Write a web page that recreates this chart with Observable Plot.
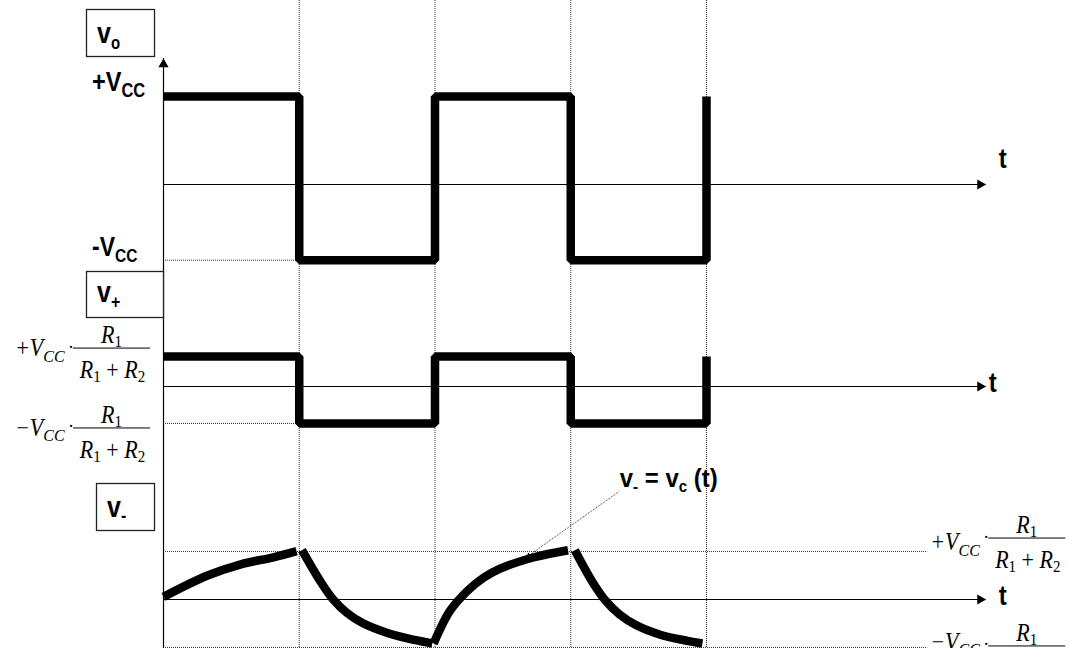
<!DOCTYPE html>
<html>
<head>
<meta charset="utf-8">
<script src="https://cdn.jsdelivr.net/npm/d3@7"></script>
<script src="https://cdn.jsdelivr.net/npm/@observablehq/plot@0.6"></script>
<style>
  html, body { margin: 0; padding: 0; background: #fff; }
  #chart { width: 1070px; height: 648px; position: relative; overflow: hidden; background: #fff; }
  #chart svg { display: block; }
</style>
</head>
<body>
<div id="chart"></div>
<script>
// ---- Data -------------------------------------------------------------
// Switching instants of the relaxation oscillator (time in half-periods)
const edges = [0, 1, 2, 3, 4];
// Comparator output v_o at the start of each half-period (units of Vcc)
const voLevels = [1, -0.86, 1, -0.86, 1];
// Non-inverting input v+ = v_o·R1/(R1+R2) at the start of each half-period
const vpLevels = [0.34, -0.42, 0.34, -0.42, 0.34];
// Switching thresholds ±Vcc·R1/(R1+R2) seen by the capacitor
const thresholds = [0.545, -0.545];
// Capacitor voltage v- = vc(t): segment id, time and value of each sample
const vcSegment = [0, 0, 0, 0, 0,
                   1, 1, 1, 1, 1, 1, 1, 1,
                   2, 2, 2, 2, 2, 2, 2,
                   3, 3, 3, 3, 3, 3, 3, 3];
const vcTime = [0.00, 0.32, 0.57, 0.81, 0.98,
                1.02, 1.15, 1.25, 1.35, 1.47, 1.65, 1.85, 1.98,
                1.99, 2.11, 2.24, 2.36, 2.48, 2.73, 2.98,
                3.03, 3.16, 3.26, 3.36, 3.48, 3.66, 3.86, 3.97];
const vcValue = [0.03, 0.27, 0.40, 0.48, 0.55,
                 0.56, 0.22, 0.00, -0.15, -0.27, -0.38, -0.46, -0.50,
                 -0.50, -0.13, 0.10, 0.25, 0.35, 0.48, 0.56,
                 0.56, 0.20, -0.02, -0.17, -0.29, -0.40, -0.47, -0.50];
// Point of the v- curve that the annotation points at, and where its text sits
const calloutTarget = {t: 2.69, v: 0.50};
const calloutText = {t: 3.35, v: 1.22};

// ---- Layout -----------------------------------------------------------
const W = 1070;
const axisX = 163;              // pixel column of the vertical axis
const pxPerHalf = 135.75;       // pixels per half-period
const pxPerUnit = 88;           // pixels per Vcc
const tEnd = 6.06;              // end of the time axes
const tDotEnd = 5.63;           // end of the dotted threshold guides
const xDomain = [-axisX / pxPerHalf, (W - axisX) / pxPerHalf];
const panels = [
  {height: 268, zero: 184},
  {height: 200, zero: 118},
  {height: 180, zero: 131}
];
const yDomain = p => [(p.zero - p.height) / pxPerUnit, p.zero / pxPerUnit];

const sans = "'Liberation Sans', Arial, sans-serif";
const serif = "'Liberation Serif', 'Times New Roman', serif";

const dotted = {stroke: "#333", strokeWidth: 1, strokeDasharray: "1,1"};
const heavy = {stroke: "black", strokeWidth: 8.5, strokeLinecap: "butt", strokeLinejoin: "miter"};
const axisLine = {stroke: "black", strokeWidth: 1.2};
const arrowR = 3.8;
// distance from a triangle symbol's centre to its tip, in pixels
const tipOffset = 2 * Math.sqrt(Math.PI * arrowR * arrowR / (3 * Math.sqrt(3)));

const toRows = (ts, vs) => ts.map((t, i) => ({t, v: vs[i]}));
const vcRows = vcTime.map((t, i) => ({t, v: vcValue[i], seg: vcSegment[i]}));

function timeAxis() {
  return [
    Plot.ruleY([0], {x1: 0, x2: tEnd, ...axisLine}),
    Plot.dot([{t: tEnd - tipOffset / pxPerHalf, v: 0}],
      {x: "t", y: "v", symbol: "triangle", r: arrowR, fill: "black", stroke: "none", rotate: 90})
  ];
}

function panel(p, marks) {
  return Plot.plot({
    width: W, height: p.height, margin: 0,
    x: {domain: xDomain, axis: null},
    y: {domain: yDomain(p), axis: null},
    style: {background: "none", overflow: "visible"},
    marks
  });
}

function scalesOf(svg) {
  const sx = svg.scale("x"), sy = svg.scale("y");
  return {x: d3.scaleLinear(sx.domain, sx.range), y: d3.scaleLinear(sy.domain, sy.range)};
}

// Text with sub/superscript parts; stretch scales the glyphs vertically.
function label(svg, x, y, parts, o) {
  const t = d3.select(svg).append("text")
    .attr("transform", `translate(${x},${y}) scale(1,${o.stretch ?? 1})`)
    .attr("text-anchor", o.anchor ?? "start")
    .attr("fill", "black")
    .style("font-family", o.family)
    .style("font-size", o.size + "px")
    .style("font-weight", o.weight ?? "normal")
    .style("font-style", "normal");
  let shift = 0;
  for (const p of parts) {
    const s = p.shift ?? 0;
    const ts = t.append("tspan").attr("dy", s - shift).text(p.text);
    shift = s;
    if (p.size) ts.style("font-size", p.size + "px");
    if (p.style) ts.style("font-style", p.style);
  }
  return t;
}

function box(svg, x1, y1, x2, y2) {
  d3.select(svg).append("rect")
    .attr("x", Math.round(x1) + 0.5).attr("y", Math.round(y1) + 0.5)
    .attr("width", Math.round(x2 - x1)).attr("height", Math.round(y2 - y1))
    .attr("fill", "white").attr("stroke", "#222").attr("stroke-width", 1.3);
}

// ±Vcc · R1/(R1+R2), with the fraction bar starting at x0, at height yBar
function fraction(svg, x0, yBar, sign, vShift) {
  const w = 77;
  const st = 1.1;
  label(svg, x0 - 58, yBar + vShift, [
    {text: sign + "V", style: "italic"},
    {text: "CC", size: 16, shift: 5, style: "italic"}
  ], {family: serif, size: 22, stretch: st});
  label(svg, x0 - 2, yBar + 4.5, [{text: "·"}], {family: serif, size: 18, anchor: "middle"});
  d3.select(svg).append("line")
    .attr("x1", x0).attr("x2", x0 + w).attr("y1", yBar).attr("y2", yBar)
    .attr("stroke", "black").attr("stroke-width", 1);
  label(svg, x0 + w / 2, yBar - 5, [
    {text: "R", style: "italic"},
    {text: "1", size: 15, shift: 4}
  ], {family: serif, size: 22, anchor: "middle", stretch: st});
  label(svg, x0 + w / 2 + 1, yBar + 30, [
    {text: "R", style: "italic"},
    {text: "1", size: 15, shift: 4},
    {text: "\u00a0+\u00a0", shift: 0},
    {text: "R", style: "italic"},
    {text: "2", size: 15, shift: 4}
  ], {family: serif, size: 22, anchor: "middle", stretch: st});
}

const boldSans = (size, extra = {}) => ({family: sans, size, weight: "bold", stretch: 1.18, ...extra});

const root = document.getElementById("chart");

// ---- Panel 1: comparator output v_o -------------------------------------
{
  const p = panels[0];
  const axisTop = (p.zero - 58) / pxPerUnit;
  const svg = panel(p, [
    Plot.ruleX(edges.slice(1), dotted),
    Plot.ruleY([voLevels[1]], {x1: 0, x2: edges[1], ...dotted}),
    Plot.ruleX([0], {y1: axisTop, y2: yDomain(p)[0], ...axisLine}),
    Plot.dot([{t: 0, v: axisTop - tipOffset / pxPerUnit}],
      {x: "t", y: "v", symbol: "triangle", r: arrowR, fill: "black", stroke: "none"}),
    ...timeAxis(),
    Plot.line(toRows(edges, voLevels), {x: "t", y: "v", curve: "step-after", ...heavy})
  ]);
  const s = scalesOf(svg);
  const x0 = s.x(0);
  box(svg, x0 - 77, 9, x0 - 9, 56);
  label(svg, x0 - 66, 43, [{text: "v"}, {text: "o", size: 15, shift: 5}], boldSans(25));
  label(svg, x0 - 71, s.y(voLevels[0]) - 5, [{text: "+V"}, {text: "CC", size: 16.5, shift: 5}], boldSans(23.5));
  label(svg, x0 - 71, s.y(voLevels[1]) - 4, [{text: "-V"}, {text: "CC", size: 15.5, shift: 5}], boldSans(23));
  label(svg, s.x(tEnd) + 13, s.y(0) - 16, [{text: "t"}], boldSans(24));
  root.append(svg);
}

// ---- Panel 2: non-inverting input v+ ------------------------------------
{
  const p = panels[1];
  const svg = panel(p, [
    Plot.ruleX(edges.slice(1), dotted),
    Plot.ruleY([vpLevels[1]], {x1: 0, x2: edges[1], ...dotted}),
    Plot.ruleX([0], axisLine),
    ...timeAxis(),
    Plot.line(toRows(edges, vpLevels), {x: "t", y: "v", curve: "step-after", ...heavy})
  ]);
  const s = scalesOf(svg);
  const x0 = s.x(0);
  box(svg, x0 - 77, 3, x0, 49);
  label(svg, x0 - 66, 34, [{text: "v"}, {text: "+", size: 16, shift: 5}], boldSans(25));
  label(svg, s.x(tEnd) + 3, s.y(0) + 6, [{text: "t"}], boldSans(24));
  fraction(svg, x0 - 90, s.y(vpLevels[0]) - 8, "+", 8);
  fraction(svg, x0 - 90, s.y(vpLevels[1]) + 5, "\u2212", 8);
  root.append(svg);
}

// ---- Panel 3: inverting input v- = capacitor voltage --------------------
{
  const p = panels[2];
  const svg = panel(p, [
    Plot.ruleX(edges.slice(1), dotted),
    Plot.ruleY(thresholds, {x1: 0, x2: tDotEnd, ...dotted}),
    Plot.ruleX([0], axisLine),
    ...timeAxis(),
    Plot.link([{a: calloutText, b: calloutTarget}],
      {x1: d => d.a.t, y1: d => d.a.v, x2: d => d.b.t, y2: d => d.b.v, ...dotted}),
    Plot.line(vcRows, {x: "t", y: "v", z: "seg", curve: "catmull-rom", ...heavy}),
    Plot.dot([calloutTarget], {x: "t", y: "v", symbol: "triangle", r: 2, fill: "black", stroke: "none", rotate: 235})
  ]);
  const s = scalesOf(svg);
  const x0 = s.x(0);
  box(svg, x0 - 67, 15, x0 - 9, 62);
  label(svg, x0 - 56, 49, [{text: "v"}, {text: "-", size: 16, shift: 4}], boldSans(25));
  label(svg, s.x(tEnd) + 13, s.y(0) + 6, [{text: "t"}], boldSans(24));
  label(svg, s.x(calloutText.t) + 2, s.y(calloutText.v) - 5, [
    {text: "v"}, {text: "-", size: 15, shift: 5},
    {text: " = v", shift: 0}, {text: "c", size: 15, shift: 5},
    {text: " (t)", shift: 0}
  ], {family: sans, size: 24, weight: "bold", stretch: 1.1});
  const xr = s.x(tDotEnd) + 61;
  fraction(svg, xr, s.y(thresholds[0]) - 13, "+", 12);
  fraction(svg, xr, s.y(thresholds[1]) - 1, "\u2212", 4);
  root.append(svg);
}
</script>
</body>
</html>
